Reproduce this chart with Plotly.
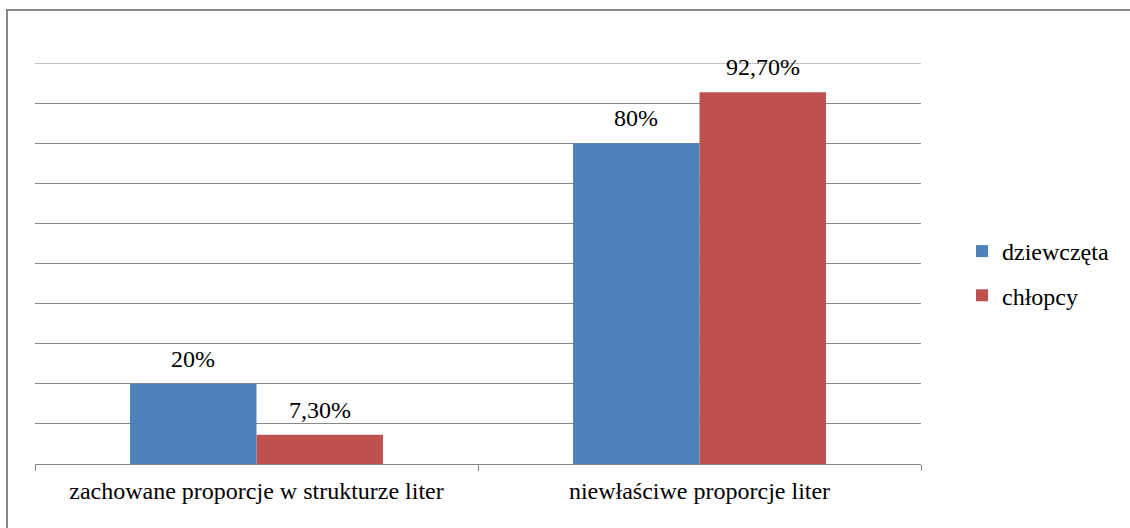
import plotly.graph_objects as go

# Dane: odsetki uczniów w dwóch kategoriach oceny proporcji liter
categories = ["zachowane proporcje w strukturze liter", "niewłaściwe proporcje liter"]
girls = [20.0, 80.0]
boys = [7.3, 92.7]
series_names = ["dziewczęta", "chłopcy"]
colors = ["#4F81BD", "#C0504D"]


def pl_percent(v):
    """Format a value the Polish way: 20 -> '20%', 7.3 -> '7,30%'."""
    if float(v).is_integer():
        return f"{int(v)}%"
    return f"{v:.2f}".replace(".", ",") + "%"


W, H = 1130, 528
ML, MR, MT, MB = 35, 209, 63, 64
plot_w = W - ML - MR
BARGAP = 0.429
FONT = "Liberation Serif"
GRID = "#878787"
YMAX = 100

fig = go.Figure()
for name, vals, col, grp in zip(series_names, [girls, boys], colors, ["g", "b"]):
    fig.add_trace(go.Bar(
        name=name,
        x=categories,
        y=vals,
        marker=dict(color=col, line=dict(width=0)),
        legendgroup=grp,
    ))

# Value labels above each bar
bar_w = plot_w / len(categories) * (1 - BARGAP) / 2
annotations = []
for i, vals in enumerate([girls, boys]):
    shift = (i - 0.5) * bar_w
    for cat, v in zip(categories, vals):
        annotations.append(dict(
            x=cat, y=v, xref="x", yref="y",
            text=pl_percent(v), showarrow=False,
            xshift=shift, yshift=25, yanchor="middle",
            font=dict(family=FONT, size=24, color="#000000"),
        ))

# Chart frame (left and top edges visible) and the gridline at the top of the scale
px = lambda x: (x - ML) / plot_w
py = lambda y: (H - MB - y) / (H - MT - MB)
shapes = [
    dict(type="line", xref="paper", yref="paper",
         x0=px(7), x1=px(7), y0=py(9), y1=py(540),
         line=dict(color=GRID, width=2)),
    dict(type="line", xref="paper", yref="paper",
         x0=px(6), x1=px(1140), y0=py(10), y1=py(10),
         line=dict(color=GRID, width=2)),
    dict(type="line", xref="paper", yref="y",
         x0=0, x1=1, y0=YMAX, y1=YMAX,
         line=dict(color=GRID, width=1), layer="below"),
]

fig.update_layout(
    width=W, height=H,
    margin=dict(l=ML, r=MR, t=MT, b=MB, pad=0),
    paper_bgcolor="white", plot_bgcolor="white",
    barmode="group", bargap=BARGAP, bargroupgap=0,
    font=dict(family=FONT, size=24, color="#000000"),
    annotations=annotations,
    shapes=shapes,
    showlegend=True,
    legend=dict(
        x=(962 - ML) / plot_w, y=py(229), xanchor="left", yanchor="top",
        traceorder="grouped", tracegroupgap=10,
        font=dict(family=FONT, size=24, color="#000000"),
        bgcolor="rgba(0,0,0,0)", itemwidth=30,
    ),
    xaxis=dict(
        showline=True, linecolor=GRID, linewidth=1,
        ticks="outside", tickson="boundaries", ticklen=6,
        tickcolor=GRID, tickwidth=1,
        showgrid=False, zeroline=False,
        ticklabelstandoff=5,
        tickfont=dict(family=FONT, size=24, color="#000000"),
    ),
    yaxis=dict(
        range=[0, YMAX], dtick=10, tick0=0,
        showgrid=True, gridcolor=GRID, gridwidth=1,
        showticklabels=False, zeroline=False, showline=False, ticks="",
    ),
)

fig.write_html("out.html")
